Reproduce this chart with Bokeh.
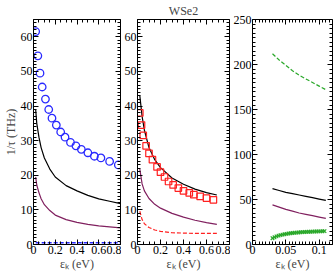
from bokeh.plotting import figure
from bokeh.layouts import row
from bokeh.models import SingleIntervalTicker, LinearAxis, CustomJSTickFormatter, Range1d
from bokeh.embed import file_html
from bokeh.resources import INLINE

p1_circ_x = [0.02, 0.04, 0.06, 0.08, 0.11, 0.14, 0.17, 0.21, 0.25, 0.29, 0.34, 0.39, 0.44, 0.50, 0.56, 0.62, 0.70, 0.78]
p1_circ_y = [61.5, 54.5, 49.5, 45.5, 42.0, 39.0, 36.5, 34.5, 32.5, 31.0, 29.5, 28.5, 27.5, 26.5, 25.5, 25.0, 24.0, 23.0]
p1_line_x = [0.02, 0.03, 0.05, 0.07, 0.1, 0.15, 0.2, 0.3, 0.4, 0.5, 0.6, 0.7, 0.8]
p1_black_y = [39.0, 35.0, 31.0, 28.0, 25.0, 21.8, 19.5, 17.0, 15.5, 14.2, 13.2, 12.5, 11.8]
p1_purple_y = [19.5, 17.2, 15.0, 13.2, 11.5, 9.8, 8.5, 7.2, 6.4, 5.8, 5.4, 5.1, 4.8]
p1_blue_dash_y = [0.5, 0.5, 0.5, 0.5, 0.5, 0.5, 0.5, 0.5, 0.5, 0.5, 0.5, 0.5, 0.5]

p2_sq_x = [0.02, 0.035, 0.05, 0.075, 0.10, 0.13, 0.17, 0.20, 0.235, 0.27, 0.31, 0.355, 0.40, 0.45, 0.49, 0.545, 0.60, 0.66]
p2_sq_y = [38.0, 34.5, 31.5, 28.5, 26.3, 24.5, 22.4, 20.9, 19.5, 18.2, 17.2, 16.3, 15.5, 14.9, 14.4, 13.9, 13.4, 12.9]
p2_line_x = [0.02, 0.04, 0.06, 0.1, 0.15, 0.2, 0.3, 0.4, 0.5, 0.6, 0.69]
p2_black_y = [43.0, 37.0, 33.0, 28.0, 24.5, 22.2, 19.2, 17.4, 16.0, 15.0, 14.3]
p2_purple_y = [21.8, 17.5, 15.5, 13.3, 11.6, 10.5, 9.0, 7.9, 7.0, 6.3, 5.8]
p2_red_dash_y = [9.6, 7.2, 6.0, 4.9, 4.2, 3.8, 3.4, 3.3, 3.2, 3.2, 3.2]

p3_line_x = [0.03, 0.04, 0.05, 0.06, 0.07, 0.08, 0.09, 0.10, 0.11]
p3_green_dash_y = [212, 205, 199, 193, 188, 184, 180, 176, 172]
p3_black_y = [62, 60, 58, 56.5, 55, 53.5, 52, 50.5, 49]
p3_purple_y = [44, 41.5, 39, 37, 35, 33.5, 32, 30.5, 29]
p3_x_x = [0.030, 0.033, 0.036, 0.039, 0.042, 0.045, 0.048, 0.051, 0.054, 0.057, 0.060, 0.063, 0.066,
          0.069, 0.072, 0.075, 0.078, 0.081, 0.084, 0.087, 0.090, 0.093, 0.096, 0.099, 0.102, 0.105, 0.108]
p3_x_y = [7.0, 8.0, 9.0, 9.8, 10.4, 11.0, 11.4, 11.8, 12.2, 12.5, 12.8, 13.0, 13.2, 13.4,
          13.6, 13.8, 13.9, 14.0, 14.1, 14.2, 14.3, 14.4, 14.5, 14.6, 14.6, 14.7, 14.8]

FONT = "Liberation Serif"
BLUE = "#2a2aff"
RED = "#ff2020"
PURPLE = "#80205f"
GREEN = "#2aa82a"

num_fmt = "return String(parseFloat(tick.toFixed(6)));"


def base_style(ax, interval, nminor):
    ax.ticker = SingleIntervalTicker(interval=interval, num_minor_ticks=nminor)
    ax.axis_line_color = "black"
    ax.major_tick_line_color = "black"
    ax.minor_tick_line_color = "black"
    ax.major_label_text_font = FONT
    ax.major_label_text_font_size = "12px"
    ax.major_label_text_color = "black"
    ax.major_label_standoff = 1
    ax.axis_label_text_font = FONT
    ax.axis_label_text_font_size = "12px"
    ax.axis_label_text_font_style = "normal"
    ax.axis_label_standoff = 0


def label_axis(ax, interval, nminor):
    base_style(ax, interval, nminor)
    ax.major_tick_in = 0
    ax.major_tick_out = 0
    ax.minor_tick_in = 0
    ax.minor_tick_out = 0
    ax.formatter = CustomJSTickFormatter(code=num_fmt)


def tick_axis(ax, interval, nminor):
    base_style(ax, interval, nminor)
    ax.formatter = CustomJSTickFormatter(code="return '';")
    ax.major_label_text_font_size = "0px"
    ax.major_label_standoff = 0
    ax.major_tick_in = -5
    ax.major_tick_out = 0
    ax.minor_tick_in = -3
    ax.minor_tick_out = 0


def make_panel(width, left, xr, yr, xint, xminor, yint, yminor, ylabel=None, title=None):
    p = figure(width=width, height=274, x_range=Range1d(*xr), y_range=Range1d(*yr),
               output_backend="svg", toolbar_location=None,
               min_border_left=left, min_border_right=1, min_border_top=17, min_border_bottom=30,
               x_axis_type=None, y_axis_type=None, title=title)
    p.outline_line_color = "black"
    p.xgrid.visible = False
    p.ygrid.visible = False
    xb = LinearAxis(axis_label="εₖ (eV)")
    label_axis(xb, xint, xminor)
    p.add_layout(xb, "below")
    yl = LinearAxis(axis_label=ylabel)
    label_axis(yl, yint, yminor)
    p.add_layout(yl, "left")
    # inward ticks on all four edges
    t_top = LinearAxis(fixed_location=yr[1])
    tick_axis(t_top, xint, xminor)
    p.add_layout(t_top, "below")
    t_right = LinearAxis(fixed_location=xr[1])
    tick_axis(t_right, yint, yminor)
    p.add_layout(t_right, "left")
    t_bot = LinearAxis(fixed_location=yr[0])
    tick_axis(t_bot, xint, xminor)
    p.add_layout(t_bot, "above")
    t_left = LinearAxis(fixed_location=xr[0])
    tick_axis(t_left, yint, yminor)
    p.add_layout(t_left, "right")
    if title is not None:
        p.title.align = "center"
        p.title.text_font = FONT
        p.title.text_font_size = "12px"
        p.title.text_font_style = "normal"
        p.title.standoff = 3
    return p


p1 = make_panel(121, 28, (0, 0.8), (0, 65), 0.2, 4, 10, 10, ylabel="1/τ (THz)")
p1.line(p1_line_x, p1_black_y, line_color="black", line_width=1.2)
p1.line(p1_line_x, p1_purple_y, line_color=PURPLE, line_width=1.2)
p1.line(p1_line_x, p1_blue_dash_y, line_color=BLUE, line_width=1.5, line_dash="4 2")
p1.scatter(p1_circ_x, p1_circ_y, marker="circle", size=7.5, fill_color=None, line_color=BLUE, line_width=1.3)

p2 = make_panel(109, 16, (0, 0.8), (0, 65), 0.2, 4, 10, 10, title="WSe2")
p2.line(p2_line_x, p2_black_y, line_color="black", line_width=1.2)
p2.line(p2_line_x, p2_purple_y, line_color=PURPLE, line_width=1.2)
p2.line(p2_line_x, p2_red_dash_y, line_color=RED, line_width=1.2, line_dash="4 2")
p2.scatter(p2_sq_x, p2_sq_y, marker="square", size=6.5, fill_color=None, line_color=RED, line_width=1.2)

p3 = make_panel(103, 22, (0, 0.12), (0, 250), 0.05, 10, 50, 10)
p3.line(p3_line_x, p3_green_dash_y, line_color=GREEN, line_width=1.2, line_dash="4 2")
p3.line(p3_line_x, p3_black_y, line_color="black", line_width=1.2)
p3.line(p3_line_x, p3_purple_y, line_color=PURPLE, line_width=1.2)
p3.line(p3_x_x, p3_x_y, line_color=GREEN, line_width=1.0)
p3.scatter(p3_x_x, p3_x_y, marker="x", size=5, line_color=GREEN, line_width=1.2)

layout = row(p1, p2, p3, spacing=0)

open("out.html", "w").write(file_html(layout, INLINE))
